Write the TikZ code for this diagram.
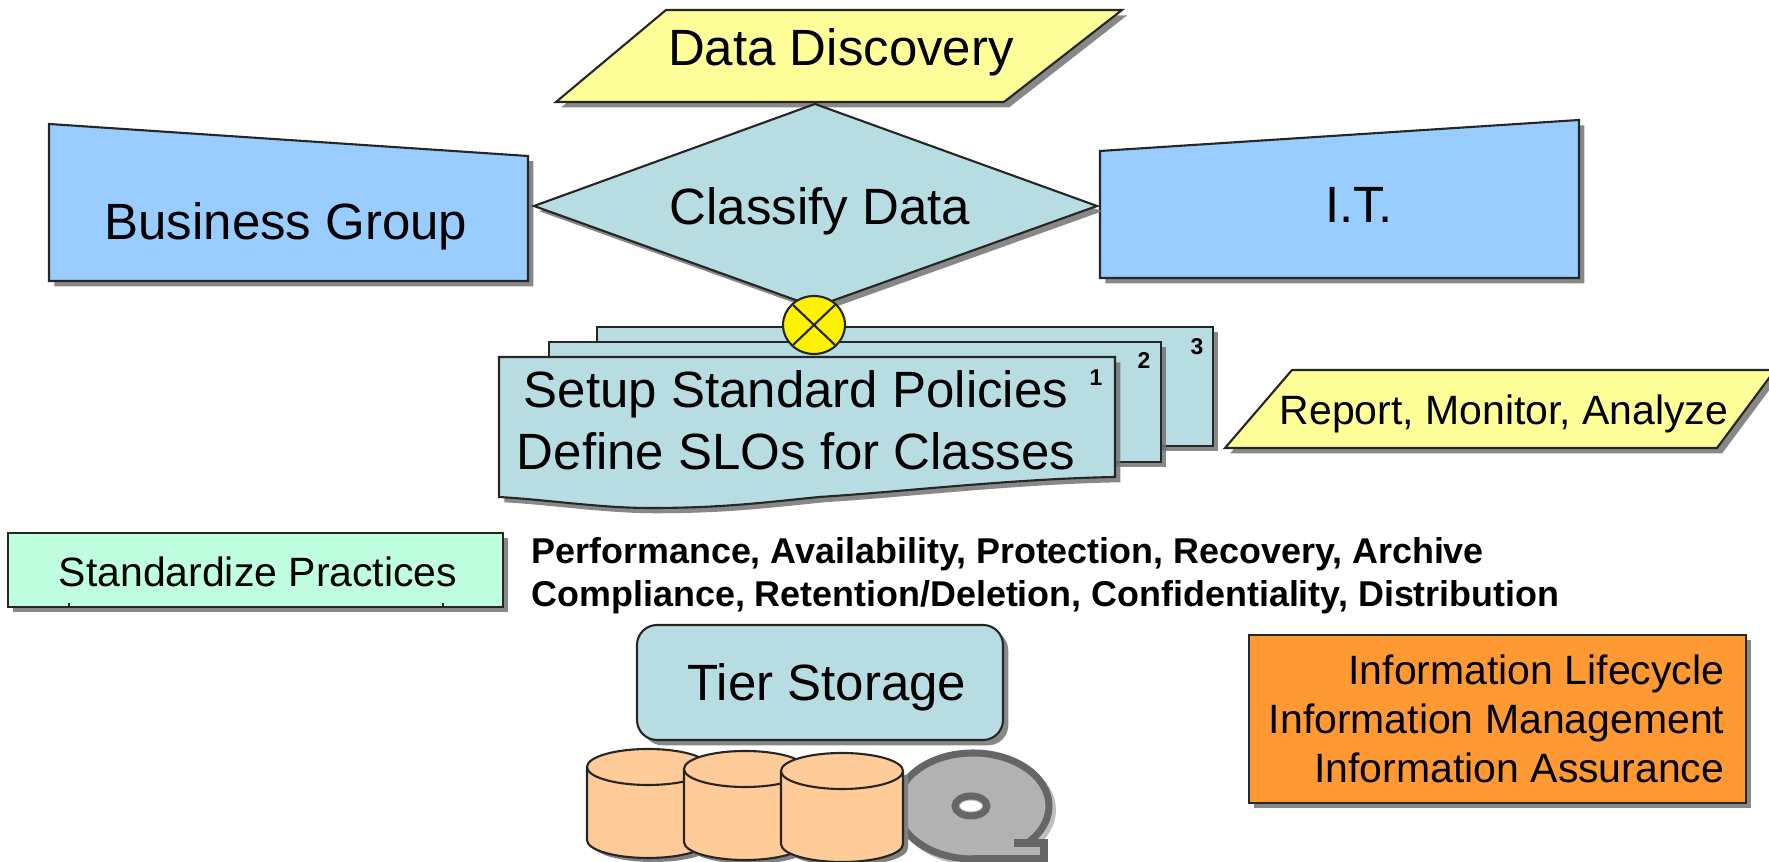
\documentclass[tikz,border=0pt]{standalone}
\usepackage{fontspec}
\setmainfont{Liberation Sans}
\usepackage{xcolor}
\usetikzlibrary{shadows}
\definecolor{skyblue}{HTML}{99CCFF}
\definecolor{paleteal}{HTML}{B7DDE3}
\definecolor{paleyellow}{HTML}{FFFF99}
\definecolor{mintgreen}{HTML}{BFFFDF}
\definecolor{deeporange}{HTML}{FF9933}
\definecolor{drumorange}{HTML}{FFCC99}
\newcommand{\bigtext}{\fontsize{14.5}{17}\selectfont}
\newcommand{\midtext}{\fontsize{11.65}{14}\selectfont}
\newcommand{\boldtext}{\fontsize{10.2}{12}\selectfont\bfseries}
\tikzset{
    block/.style={draw=black!85,line width=0.6pt,drop shadow={shadow xshift=1.5pt,shadow yshift=-1.5pt,fill=black!55,opacity=0.85}},
    drum/.style={draw=black!85,line width=0.6pt,fill=drumorange},
    disc/.style={draw=black!60,line width=2pt,fill=black!30},
}
\newcommand{\drum}[3]{
    \fill[black!50] (#1+5-61,#2+4) -- ++(0,73) arc[start angle=180,end angle=0,x radius=61,y radius=18] -- ++(0,-73) -- cycle;
    \draw[drum] (#1-61,#2) -- (#1-61,#3) arc[start angle=180,end angle=0,x radius=61,y radius=18] -- (#1+61,#2);
    \draw[drum] (#1,#2) ellipse [x radius=61,y radius=18];
}
\begin{document}
\begin{tikzpicture}[x=0.01cm,y=-0.01cm]
        \useasboundingbox (0,0) rectangle (1769,862);

        % Top of the picture
        \draw[block,fill=paleyellow] (556,102) -- (666,10) -- (1122,10) -- (1004,102) -- cycle;
        \draw (841,52) node (discovery) {\bigtext Data Discovery};

        \draw[block,fill=skyblue] (49,124) -- (528,156) -- (528,281) -- (49,281) -- cycle;
        \draw (286,226) node (business) {\bigtext Business Group};
        \draw[block,fill=skyblue] (1100,151) -- (1579,120) -- (1579,278) -- (1100,278) -- cycle;
        \draw (1359,205) node (it) {\bigtext I.T.};
        \draw[block,fill=paleteal] (534,206) -- (815,104) -- (1097,206) -- (815,307) -- cycle;
        \draw (820,211) node (classify) {\bigtext Classify Data};

        % Three stacked pages
        \draw[block,fill=paleteal] (597,327) rectangle (1213,446);
        \draw[block,fill=paleteal] (549,342) rectangle (1161,462);
        \draw[block,fill=paleteal] (499,357) -- (1115,357) -- (1115,477) .. controls (1010,479) and (900,492) .. (819,497) .. controls (760,503) and (720,508) .. (650,508) .. controls (600,508) and (550,500) .. (499,497) -- cycle;
        \draw (796,394) node (setup) {\bigtext Setup Standard Policies};
        \draw (796,451) node (define) {\bigtext Define SLOs for Classes};
        \draw (1096,378) node (one) {\fontsize{6.5}{8}\selectfont\bfseries 1};
        \draw (1144,361) node (two) {\fontsize{6.5}{8}\selectfont\bfseries 2};
        \draw (1197,347) node (three) {\fontsize{6.5}{8}\selectfont\bfseries 3};

        % Crossed circle over the pages
        \draw[fill=yellow,draw=black!85,line width=0.6pt] (814,325) ellipse [x radius=31,y radius=29];
        \draw[black!85,line width=0.6pt] (793,305) -- (835,345);
        \draw[black!85,line width=0.6pt] (836,304) -- (793,345);

        % Side boxes
        \draw[block,fill=paleyellow] (1225,448) -- (1292,370) -- (1775,370) -- (1717,448) -- cycle;
        \draw (1504,414) node (report) {\midtext Report, Monitor, Analyze};

        \draw[block,fill=mintgreen] (8,533) rectangle (503,607);
        \draw[black!85,line width=0.4pt] (69,603) -- (69,607);
        \draw[black!85,line width=0.4pt] (443,603) -- (443,607);
        \draw (258,572) node (practices) {\midtext Standardize Practices};

        \draw (531,554) node[anchor=west,inner sep=0pt] (services) {\boldtext Performance, Availability, Protection, Recovery, Archive};
        \draw (531,597) node[anchor=west,inner sep=0pt] (compliance) {\boldtext Compliance, Retention/Deletion, Confidentiality, Distribution};

        \draw[block,fill=deeporange] (1249,635) rectangle (1746,803);
        \draw (1725,685) node[anchor=base east,inner sep=0pt] (lifecycle) {\midtext Information Lifecycle};
        \draw (1725,734) node[anchor=base east,inner sep=0pt] (management) {\midtext Information Management};
        \draw (1725,783) node[anchor=base east,inner sep=0pt] (assurance) {\midtext Information Assurance};

        % Storage
        \draw[block,fill=paleteal,rounded corners=0.2cm] (637,625) rectangle (1003,740);
        \draw (827,687) node (tier) {\bigtext Tier Storage};

        \fill[black!25] (977,810) ellipse [x radius=79,y radius=56];
        \draw[disc] (973,806) ellipse [x radius=76,y radius=53];
        \draw[disc] (973,859) -- (1044,859) -- (1044,843) -- (1014,843);
        \draw[disc] (971,806) ellipse [x radius=16,y radius=10];
        \fill[white] (971,806) ellipse [x radius=11,y radius=5.5];

        \drum{648}{767}{840}
        \drum{745}{769}{842}
        \drum{842}{771}{844}
    \end{tikzpicture}
\end{document}
